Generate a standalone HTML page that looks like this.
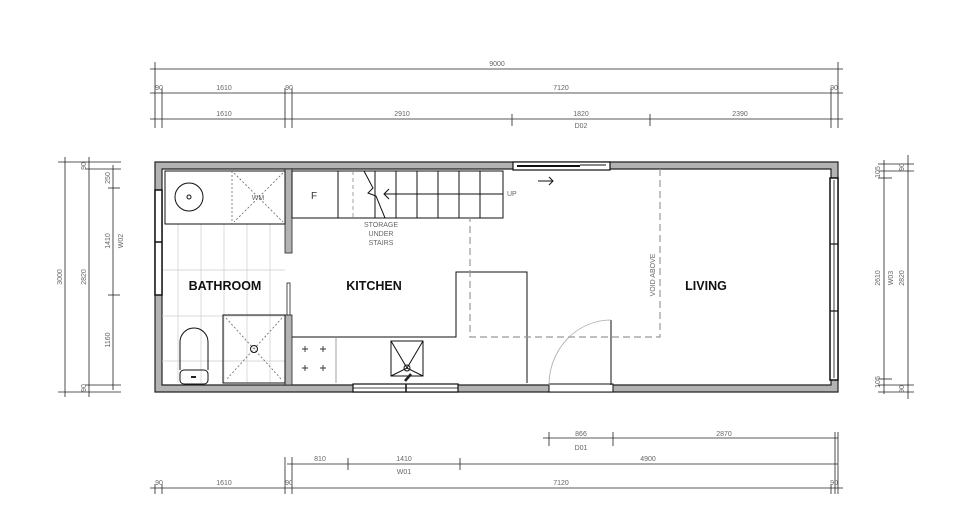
<!DOCTYPE html>
<html><head><meta charset="utf-8"><style>
html,body{margin:0;padding:0;background:#fff;}
svg{display:block;}
.d{stroke:#222;stroke-width:0.8;fill:none}
.t{font-family:"Liberation Sans",sans-serif;font-size:7px;fill:#666;}
.l{font-family:"Liberation Sans",sans-serif;font-size:12.5px;font-weight:bold;fill:#111;}
.g{stroke:#ccc;stroke-width:0.7;fill:none}
.k{stroke:#111;stroke-width:1;fill:none}
.dash{stroke:#999;stroke-width:1.2;fill:none;stroke-dasharray:7,4}
</style></head><body>
<svg width="963" height="529" viewBox="0 0 963 529" xmlns="http://www.w3.org/2000/svg">
<!-- top dimensions -->
<g class="d">
<line x1="150" y1="69" x2="843" y2="69"/>
<line x1="150" y1="93" x2="843" y2="93"/>
<line x1="150" y1="119" x2="843" y2="119"/>
<line x1="155" y1="62" x2="155" y2="128"/><line x1="162" y1="88" x2="162" y2="128"/>
<line x1="285" y1="88" x2="285" y2="128"/><line x1="292" y1="88" x2="292" y2="128"/>
<line x1="838" y1="62" x2="838" y2="128"/><line x1="831" y1="88" x2="831" y2="128"/>
<line x1="512" y1="114" x2="512" y2="126"/><line x1="650" y1="114" x2="650" y2="126"/>
</g>
<g class="t" text-anchor="middle">
<text x="497" y="66">9000</text>
<text x="159" y="90">90</text><text x="224" y="90">1610</text><text x="289" y="90">90</text><text x="561" y="90">7120</text><text x="834" y="90">90</text>
<text x="224" y="116">1610</text><text x="402" y="116">2910</text><text x="581" y="116">1820</text><text x="740" y="116">2390</text>
<text x="581" y="128">D02</text>
</g>
<!-- bottom dimensions -->
<g class="d">
<line x1="543" y1="438" x2="838" y2="438"/>
<line x1="287" y1="464" x2="838" y2="464"/>
<line x1="150" y1="488" x2="843" y2="488"/>
<line x1="549" y1="432" x2="549" y2="446"/><line x1="613" y1="432" x2="613" y2="446"/>
<line x1="835" y1="432" x2="835" y2="494"/><line x1="838" y1="432" x2="838" y2="494"/>
<line x1="285" y1="457" x2="285" y2="494"/><line x1="292" y1="457" x2="292" y2="494"/>
<line x1="348" y1="458" x2="348" y2="470"/><line x1="460" y1="458" x2="460" y2="470"/>
<line x1="155" y1="484" x2="155" y2="494"/><line x1="162" y1="484" x2="162" y2="494"/>
<line x1="831" y1="484" x2="831" y2="494"/>
</g>
<g class="t" text-anchor="middle">
<text x="581" y="436">866</text><text x="724" y="436">2870</text><text x="581" y="450">D01</text>
<text x="320" y="461">810</text><text x="404" y="461">1410</text><text x="404" y="474">W01</text><text x="648" y="461">4900</text>
<text x="159" y="485">90</text><text x="224" y="485">1610</text><text x="289" y="485">90</text><text x="561" y="485">7120</text><text x="834" y="485">90</text>
</g>
<!-- left dimensions -->
<g class="d">
<line x1="65" y1="157" x2="65" y2="397"/>
<line x1="89" y1="157" x2="89" y2="397"/>
<line x1="113" y1="165" x2="113" y2="390"/>
<line x1="58" y1="162" x2="121" y2="162"/><line x1="85" y1="169" x2="121" y2="169"/>
<line x1="58" y1="392" x2="121" y2="392"/><line x1="85" y1="385" x2="121" y2="385"/>
<line x1="108" y1="188" x2="120" y2="188"/><line x1="108" y1="295" x2="120" y2="295"/>
</g>
<g class="t" text-anchor="middle">
<text transform="translate(62,277) rotate(-90)">3000</text>
<text transform="translate(86,277) rotate(-90)">2820</text>
<text transform="translate(86,166) rotate(-90)">90</text>
<text transform="translate(86,388) rotate(-90)">90</text>
<text transform="translate(110,178) rotate(-90)">250</text>
<text transform="translate(110,241) rotate(-90)">1410</text>
<text transform="translate(123,241) rotate(-90)">W02</text>
<text transform="translate(110,340) rotate(-90)">1160</text>
</g>
<!-- right dimensions -->
<g class="d">
<line x1="884" y1="160" x2="884" y2="394"/>
<line x1="908" y1="155" x2="908" y2="399"/>
<line x1="878" y1="164" x2="914" y2="164"/><line x1="878" y1="171" x2="914" y2="171"/>
<line x1="878" y1="178" x2="892" y2="178"/><line x1="878" y1="379" x2="892" y2="379"/>
<line x1="878" y1="385" x2="914" y2="385"/><line x1="878" y1="392" x2="914" y2="392"/>
</g>
<g class="t" text-anchor="middle">
<text transform="translate(880,172) rotate(-90)">105</text>
<text transform="translate(904,167) rotate(-90)">90</text>
<text transform="translate(880,278) rotate(-90)">2610</text>
<text transform="translate(893,278) rotate(-90)">W03</text>
<text transform="translate(904,278) rotate(-90)">2820</text>
<text transform="translate(880,382) rotate(-90)">105</text>
<text transform="translate(904,389) rotate(-90)">90</text>
</g>
<!-- walls -->
<path d="M155,162 H838 V392 H155 Z M162,169 V385 H831 V169 Z" fill="#b3b3b3" fill-rule="evenodd" stroke="#222" stroke-width="1.2"/>
<rect x="285" y="169" width="7" height="84" fill="#b3b3b3" stroke="#222" stroke-width="0.8"/>
<rect x="285" y="315" width="7" height="70" fill="#b3b3b3" stroke="#222" stroke-width="0.8"/>
<rect x="287" y="283" width="3" height="32" fill="#fff" stroke="#222" stroke-width="0.8"/>
<!-- bathroom tiles -->
<g class="g">
<line x1="178" y1="224" x2="178" y2="383"/><line x1="201" y1="224" x2="201" y2="383"/><line x1="224" y1="224" x2="224" y2="383"/><line x1="247" y1="224" x2="247" y2="383"/><line x1="270" y1="224" x2="270" y2="383"/>
<line x1="162" y1="270" x2="285" y2="270"/><line x1="162" y1="316" x2="285" y2="316"/><line x1="162" y1="361" x2="285" y2="361"/>
</g>
<rect x="165" y="171" width="120" height="53" fill="#fff" class="k"/>
<circle cx="189" cy="197" r="14" class="k"/><circle cx="189" cy="197" r="2" class="k"/>
<g stroke="#666" stroke-width="0.8" stroke-dasharray="2,2" fill="none">
<line x1="232" y1="171" x2="232" y2="224"/>
<line x1="234" y1="173" x2="283" y2="222"/><line x1="283" y1="173" x2="234" y2="222"/>
</g>
<text x="258" y="200" class="t" text-anchor="middle" fill="#444">WM</text>
<!-- shower -->
<rect x="223" y="315" width="62" height="68" fill="#fff" class="k"/>
<g stroke="#666" stroke-width="0.8" stroke-dasharray="2,2"><line x1="226" y1="318" x2="282" y2="380"/><line x1="282" y1="318" x2="226" y2="380"/></g>
<circle cx="254" cy="349" r="3.5" fill="#fff" class="k"/>
<!-- toilet -->
<path d="M180,370 V342 A14,14 0 0 1 208,342 V370" fill="#fff" class="k"/>
<rect x="180" y="370" width="28" height="14" rx="4" fill="#fff" class="k"/>
<rect x="191" y="376" width="5" height="2" fill="#222"/>
<!-- left window -->
<rect x="155" y="190" width="7" height="105" fill="#fff" stroke="#111" stroke-width="1.5"/>
<line x1="155" y1="242" x2="162" y2="242" stroke="#111" stroke-width="1.5"/>
<!-- stairs -->
<g class="k">
<rect x="292" y="171" width="211" height="47"/>
<line x1="338" y1="171" x2="338" y2="218"/>
<line x1="375" y1="171" x2="375" y2="218"/><line x1="396" y1="171" x2="396" y2="218"/><line x1="417" y1="171" x2="417" y2="218"/><line x1="438" y1="171" x2="438" y2="218"/><line x1="459" y1="171" x2="459" y2="218"/><line x1="480" y1="171" x2="480" y2="218"/>
<line x1="384" y1="194" x2="503" y2="194"/>
<path d="M389,189 L384,194 L389,199"/>
<path d="M364,171 L373,188 L368,193 L376,196 L385,218"/>
</g>
<line x1="353" y1="171" x2="353" y2="218" stroke="#888" stroke-width="0.8" stroke-dasharray="4,3"/>
<text x="314" y="199" font-family="Liberation Sans,sans-serif" font-size="10" fill="#333" text-anchor="middle">F</text>
<text x="507" y="196" class="t" font-size="5">UP</text>
<g class="t" text-anchor="middle" font-size="7.5" fill="#333">
<text x="381" y="227">STORAGE</text><text x="381" y="236">UNDER</text><text x="381" y="245">STAIRS</text>
</g>
<!-- kitchen counter -->
<path d="M292,337 H456 V272 H527 V383" class="k"/>
<line x1="336" y1="337" x2="336" y2="383" stroke="#888" stroke-width="0.8"/>
<g stroke="#333" stroke-width="0.9">
<path d="M302,349 h6 M305,346 v6 M320,349 h6 M323,346 v6 M302,368 h6 M305,365 v6 M320,368 h6 M323,365 v6"/>
</g>
<rect x="391" y="341" width="32" height="35" fill="#fff" class="k"/>
<path d="M391,341 L407,368 L423,341 M391,376 L407,368 L423,376" class="k"/>
<circle cx="407" cy="368" r="3" fill="#fff" class="k"/>
<line x1="405" y1="381" x2="411" y2="374" stroke="#222" stroke-width="2.5"/>
<!-- bottom window -->
<rect x="353" y="384" width="105" height="8" fill="#fff" stroke="#111" stroke-width="1.2"/>
<line x1="353" y1="388" x2="458" y2="388" stroke="#111" stroke-width="0.8"/>
<line x1="406" y1="384" x2="406" y2="392" stroke="#111" stroke-width="1.5"/>
<!-- top window -->
<rect x="513" y="162" width="97" height="8" fill="#fff" stroke="#111" stroke-width="1.2"/>
<line x1="517" y1="166" x2="580" y2="166" stroke="#111" stroke-width="2"/>
<line x1="580" y1="165" x2="606" y2="165" stroke="#111" stroke-width="1"/>
<path d="M538,181 H553 M549,177 L553,181 L549,185" class="k"/>
<!-- void -->
<path d="M660,169 V337 H470 V218" class="dash"/>
<text transform="translate(655,275) rotate(-90)" class="t" text-anchor="middle" font-size="7.5">VOID ABOVE</text>
<!-- door -->
<rect x="549" y="384" width="64" height="8" fill="#fff" stroke="#111" stroke-width="1"/>
<line x1="611" y1="320" x2="611" y2="385" class="k"/>
<path d="M549,385 A62,65 0 0 1 611,320" stroke="#aaa" stroke-width="0.8" fill="none"/>
<!-- right window -->
<rect x="830" y="178" width="8" height="202" fill="#fff" stroke="#111" stroke-width="1.5"/>
<line x1="830" y1="244" x2="838" y2="244" stroke="#111" stroke-width="1.2"/><line x1="830" y1="311" x2="838" y2="311" stroke="#111" stroke-width="1.2"/>
<line x1="834" y1="180" x2="834" y2="378" stroke="#111" stroke-width="0.8"/>
<!-- labels -->
<text x="225" y="290" class="l" text-anchor="middle">BATHROOM</text>
<text x="374" y="290" class="l" text-anchor="middle">KITCHEN</text>
<text x="706" y="290" class="l" text-anchor="middle">LIVING</text>
</svg>
</body></html>
